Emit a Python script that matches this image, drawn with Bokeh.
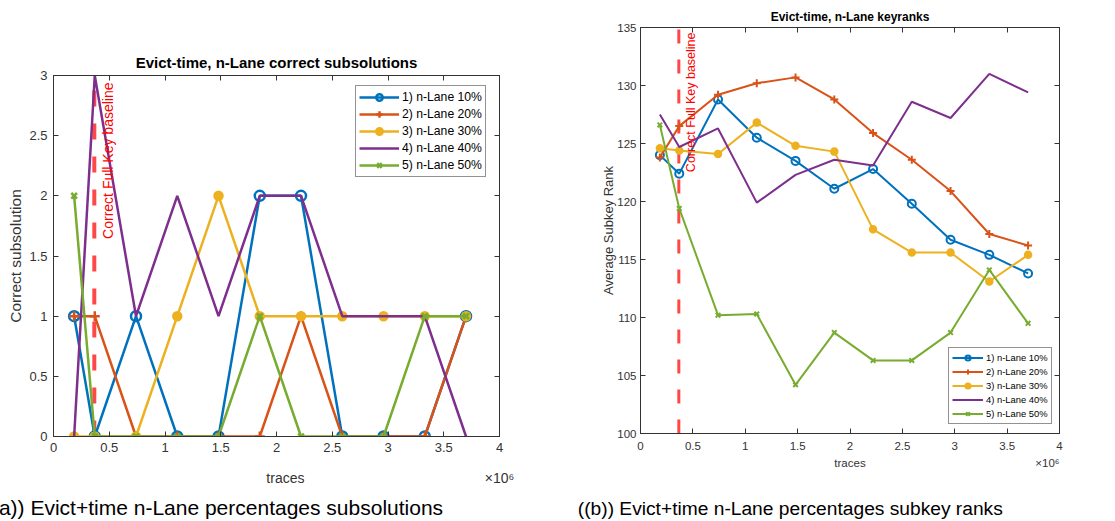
import math

from bokeh.embed import file_html
from bokeh.layouts import column, row
from bokeh.models import (FixedTicker, Label, Legend, LegendItem, LinearAxis,
                          Range1d)
from bokeh.plotting import figure
from bokeh.resources import INLINE

# ---------------------------------------------------------------- data
# number of traces, in units of 10^6
traces = [0.185, 0.37, 0.74, 1.11, 1.48, 1.85, 2.22, 2.59, 2.96, 3.33, 3.70]
baseline_traces = 0.366

series_labels = ["1) n-Lane 10%", "2) n-Lane 20%", "3) n-Lane 30%",
                 "4) n-Lane 40%", "5) n-Lane 50%"]

# correct subsolutions per n-Lane percentage
subsol_10 = [1, 0, 1, 0, 0, 2, 2, 0, 0, 0, 1]
subsol_20 = [1, 1, 0, 0, 0, 0, 1, 0, 0, 0, 1]
subsol_30 = [0, 0, 0, 1, 2, 1, 1, 1, 1, 1, 1]
subsol_40 = [0, 3, 1, 2, 1, 2, 2, 1, 1, 1, 0]
subsol_50 = [2, 0, 0, 0, 0, 1, 0, 0, 0, 1, 1]

# average subkey rank per n-Lane percentage
rank_10 = [124.0, 122.4, 128.8, 125.5, 123.5, 121.1, 122.8, 119.8, 116.7, 115.4, 113.8]
rank_20 = [123.8, 126.5, 129.2, 130.2, 130.7, 128.8, 125.9, 123.6, 120.9, 117.2, 116.2]
rank_30 = [124.6, 124.4, 124.1, 126.8, 124.8, 124.3, 117.6, 115.6, 115.6, 113.1, 115.4]
rank_40 = [127.5, 124.7, 126.3, 119.9, 122.3, 123.6, 123.1, 128.6, 127.2, 131.0, 129.4]
rank_50 = [126.6, 119.4, 110.2, 110.3, 104.2, 108.7, 106.3, 106.3, 108.7, 114.1, 109.5]

x_tick_values = [0, 0.5, 1, 1.5, 2, 2.5, 3, 3.5, 4]
x_tick_labels = ["0", "0.5", "1", "1.5", "2", "2.5", "3", "3.5", "4"]
subsol_tick_values = [0, 0.5, 1, 1.5, 2, 2.5, 3]
subsol_tick_labels = ["0", "0.5", "1", "1.5", "2", "2.5", "3"]
rank_tick_values = [100, 105, 110, 115, 120, 125, 130, 135]
rank_tick_labels = ["100", "105", "110", "115", "120", "125", "130", "135"]

x_name = "traces"
x_scale_note = "×10⁶"
caption_a = "(a)) Evict+time n-Lane percentages subsolutions"
caption_b = "((b)) Evict+time n-Lane percentages subkey ranks"

# ---------------------------------------------------------------- style
COLORS = ["#0072BD", "#D95319", "#EDB120", "#7E2F8E", "#77AC30"]
MARKERS = ["circle", "cross", "circle", None, "x"]
FILLED = [False, False, True, False, False]
FONT = "Liberation Sans"
AXIS_COLOR = "#333333"
TEXT_COLOR = "#333333"


def style_axes(p, yt, yl, tick_size, x_standoff, y_standoff):
    for ax in p.xaxis:
        ax.ticker = FixedTicker(ticks=x_tick_values)
        ax.major_label_overrides = dict(zip(x_tick_values, x_tick_labels))
        ax.major_label_standoff = x_standoff
    for ax in p.yaxis:
        ax.ticker = FixedTicker(ticks=yt)
        ax.major_label_overrides = dict(zip(yt, yl))
        ax.major_label_standoff = y_standoff
    for ax in p.axis:
        ax.axis_line_color = AXIS_COLOR
        ax.major_tick_line_color = AXIS_COLOR
        ax.major_tick_in = 5
        ax.major_tick_out = 0
        ax.minor_tick_line_color = None
        ax.major_label_text_font = FONT
        ax.major_label_text_font_size = tick_size
        ax.major_label_text_color = TEXT_COLOR


def make_panel(width, height, borders, y_lo, y_hi, yt, yl, tick_size,
               x_standoff, y_standoff):
    left, right, top, bottom = borders
    p = figure(width=width, height=height, x_range=Range1d(0, 4),
               y_range=Range1d(y_lo, y_hi), output_backend="svg",
               toolbar_location=None, min_border_left=left,
               min_border_right=right, min_border_top=top,
               min_border_bottom=bottom, background_fill_color="white",
               border_fill_color="white")
    p.xgrid.visible = False
    p.ygrid.visible = False
    p.outline_line_color = AXIS_COLOR
    p.add_layout(LinearAxis(), "above")
    p.add_layout(LinearAxis(), "right")
    style_axes(p, yt=yt, yl=yl, tick_size=tick_size, x_standoff=x_standoff,
               y_standoff=y_standoff)
    # the box axes on top and right carry ticks only
    for ax in (p.above[0], p.right[0]):
        ax.major_label_text_font_size = "1px"
        ax.major_label_text_color = None
        ax.major_label_standoff = 0
    return p


def set_title(p, text, size, standoff):
    p.title.text = text
    p.title.align = "center"
    p.title.text_font = FONT
    p.title.text_font_size = size
    p.title.text_font_style = "bold"
    p.title.text_color = "#000000"
    p.title.standoff = standoff


def set_ylabel(p, text, size, standoff):
    ax = p.yaxis[0]
    ax.axis_label = text
    ax.axis_label_text_font = FONT
    ax.axis_label_text_font_size = size
    ax.axis_label_text_font_style = "normal"
    ax.axis_label_text_color = TEXT_COLOR
    ax.axis_label_standoff = standoff


def text_row(p, labels, size, standoff, color=TEXT_COLOR):
    """A line-less axis under the plot whose only content is the given
    texts, each centred at its x position (in traces)."""
    ax = LinearAxis(ticker=FixedTicker(ticks=list(labels)),
                    major_label_overrides=dict(labels),
                    axis_line_color=None, major_tick_line_color=None,
                    minor_tick_line_color=None, major_tick_in=0,
                    major_tick_out=0, major_label_standoff=standoff,
                    major_label_text_font=FONT,
                    major_label_text_font_size=size,
                    major_label_text_color=color)
    p.add_layout(ax, "below")


def draw_series(p, ys, lw, msize, legend_loc, legend_font, label_h,
                glyph_w):
    items = []
    for i, y in enumerate(ys):
        rs = [p.line(traces, y, line_color=COLORS[i], line_width=lw)]
        if MARKERS[i] is not None:
            rs.append(p.scatter(traces, y, marker=MARKERS[i], size=msize[i],
                                line_color=COLORS[i], line_width=lw,
                                fill_color=COLORS[i] if FILLED[i] else None))
        items.append(LegendItem(label=series_labels[i], renderers=rs))
    legend = Legend(items=items, location=legend_loc,
                    label_text_font=FONT, label_text_font_size=legend_font,
                    label_text_color="#000000", label_height=label_h,
                    glyph_height=label_h, glyph_width=glyph_w,
                    label_standoff=3, spacing=1, padding=3, margin=0,
                    border_line_color="#262626", border_line_width=1,
                    background_fill_color="white", background_fill_alpha=1)
    p.add_layout(legend, "center")


def baseline(p, y_lo, y_hi, lw, dash, font_size, x_off, y_off):
    p.line([baseline_traces, baseline_traces], [y_lo, y_hi],
           line_color="#ff0000", line_alpha=0.72, line_width=lw,
           line_dash=dash)
    p.add_layout(Label(x=baseline_traces, y=y_hi, x_offset=x_off,
                       y_offset=y_off, angle=math.pi / 2,
                       text="Correct Full Key baseline",
                       text_align="right", text_baseline="middle",
                       text_font=FONT, text_font_size=font_size,
                       text_color="#ff0000"))


# ---------------------------------------------------------------- (a) subsolutions
# the panel sits 9 px past the left page edge, so the caption's first
# character falls just outside the page
pa = make_panel(566, 521, (62, 49, 75, 82), 0, 3, subsol_tick_values,
                subsol_tick_labels, "13px", 6, 6)
pa.margin = (0, 0, 0, -9)
set_title(pa, "Evict-time, n-Lane correct subsolutions", "15px", 10)
set_ylabel(pa, "Correct subsolution", "15.5px", 2)
text_row(pa, {2.08: x_name, 4.0: x_scale_note}, "14px", 15)
text_row(pa, {1.471: caption_a}, "21px", 7, color="#000000")
baseline(pa, 0, 3, 4, "16 17", "14px", 14, -7)
draw_series(pa, [subsol_10, subsol_20, subsol_30, subsol_40, subsol_50],
            lw=2.5, msize=[10, 10, 8, 0, 8], legend_loc=(302, 259),
            legend_font="12.2px", label_h=16, glyph_w=40)

# ---------------------------------------------------------------- (b) key ranks
pb = make_panel(558, 521, (83, 56, 27, 88), 100, 135, rank_tick_values,
                rank_tick_labels, "11.5px", 8, 4)
set_title(pb, "Evict-time, n-Lane keyranks", "12px", 8)
set_ylabel(pb, "Average Subkey Rank", "13px", -2)
text_row(pb, {2.0: x_name, 3.885: x_scale_note}, "11.5px", 4)
text_row(pb, {1.43: caption_b}, "19.2px", 26, color="#000000")
baseline(pb, 100, 135, 3, "14 16", "12.5px", 12, -5)
draw_series(pb, [rank_10, rank_20, rank_30, rank_40, rank_50],
            lw=2, msize=[8, 8, 6.5, 0, 6.5], legend_loc=(308, 9),
            legend_font="9.4px", label_h=13, glyph_w=31)

layout = row(column(pa), column(pb), spacing=0)
open("out.html", "w").write(file_html(layout, INLINE))
